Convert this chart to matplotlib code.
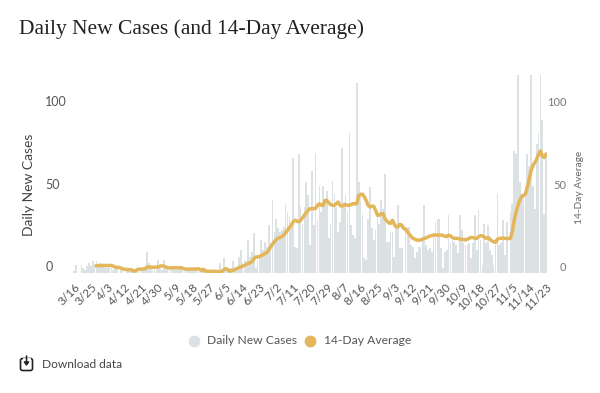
import numpy as np
import matplotlib
matplotlib.use('Agg')
import matplotlib.pyplot as plt
from matplotlib.patches import FancyBboxPatch

nan = float('nan')

# one row per tick interval (9 days), starting 3/16
daily = [
    1, 5, 0, 0, 5, 3, 2, 4, 6,
    4, 7, 5, 7, 4, 6, 4, 4, 3,
    4, 3, 3, 2, 3, 3, 0, 2, 2,
    0, 2, 2, 2, 2, 1, 2, 1, 1,
    1, 2, 3, 13, 6, 3, 2, 3, 2,
    8, 3, 2, 8, 3, 3, 2, 3, 4,
    3, 2, 3, 4, 3, 3, 2, 3, 2,
    3, 2, 2, 1, 2, 2, 2, 3, 1,
    1, 2, 1, 1, 1, 0, 6, 1, 9,
    2, 1, 2, 3, 7, 2, 3, 10, 14,
    6, 8, 7, 20, 10, 13, 24, 3, 8,
    10, 20, 14, 19, 16, 29, 18, 44, 25,
    33, 27, 25, 26, 28, 42, 37, 34, 28,
    70, 16, 15, 72, 40, 30, 40, 55, 47,
    17, 62, 29, 73, 33, 53, 37, 53, 45,
    50, 21, 30, 56, 48, 40, 25, 31, 76,
    43, 47, 37, 85, 29, 23, 21, 115, 55,
    49, 35, 9, 8, 33, 52, 27, 20, 26,
    38, 30, 44, 39, 60, 19, 19, 25, 25,
    10, 27, 41, 15, 15, 0, 28, 28, 28,
    17, 16, 9, 13, 16, 16, 22, 41, 17,
    14, 15, 13, 24, 31, 33, 33, 15, 3,
    13, 14, 35, 18, 20, 19, 17, 12, 35,
    26, 18, 17, 17, 18, 9, 18, 35, 14,
    38, 20, 5, 30, 18, 29, 14, 11, 5,
    17, 48, 17, 18, 32, 11, 31, 0, 37,
    42, 74, 72, 120, 55, 48, 48, 53, 72,
    65, 120, 53, 39, 78, 85, 120, 93, 36,
    73,
]

average = [
    nan, nan, nan, nan, nan, nan, nan, nan, nan,
    nan, nan, nan, 4.4, 4.5, 4.5, 4.5, 4.6, 4.6,
    4.5, 4.6, 4.5, 4.2, 3.6, 3.4, 3.4, 3.0, 2.6,
    2.2, 2.2, 2.0, 2.0, 1.9, 1.0, 1.5, 2.2, 2.3,
    2.4, 2.4, 2.6, 3.6, 3.6, 3.6, 3.5, 3.5, 3.6,
    3.6, 4.2, 4.3, 4.2, 3.6, 3.4, 3.0, 3.1, 3.2,
    3.2, 3.2, 3.1, 3.2, 3.0, 2.5, 2.3, 2.3, 2.4,
    2.4, 2.4, 2.4, 2.5, 2.4, 1.6, 2.3, 1.2, 1.1,
    1.0, 1.0, 1.0, 1.0, 0.9, 0.9, 1.0, 1.0, 2.0,
    2.6, 2.2, 1.0, 1.4, 1.6, 2.2, 2.8, 3.2, 3.6,
    4.2, 4.6, 5.2, 5.8, 6.2, 6.8, 8.5, 9.6, 9.8,
    10, 10.5, 11.2, 11.8, 12.5, 14, 15.8, 17.5, 19,
    20.3, 21.2, 21.6, 22, 23, 24.5, 26, 27.5, 29,
    31, 32, 31.5, 31, 32, 33.5, 35, 36.5, 38,
    39, 39, 39, 39.2, 41, 42, 41, 41, 44,
    44, 42.5, 41.5, 41, 41, 42, 43, 41, 40.5,
    41, 41.5, 41, 41, 41.5, 42, 42, 42, 47,
    47.5, 47.8, 46, 44, 41, 40, 40.5, 40.5, 38,
    35, 35, 36, 36, 33, 31.5, 30.5, 30, 32,
    29.5, 28, 28, 29.5, 29, 27, 26.5, 25, 23.5,
    22, 21, 20.5, 20, 19.8, 20, 20.5, 21, 21.3,
    21.8, 22.5, 22.6, 23, 23, 23, 23, 23, 22.8,
    22.3, 22, 23, 22.5, 21.5, 21, 21, 21, 20.5,
    20.5, 20.3, 20, 20.5, 21, 21.6, 21.5, 21, 21,
    22, 22.6, 22.5, 21.8, 21, 21.5, 20.5, 19.5, 19,
    18.5, 20.5, 21, 21, 21.3, 21, 21, 20.8, 21,
    25, 32, 37, 41, 44, 46.5, 47, 48, 52,
    57, 62, 65, 67, 69, 72, 74, 71, 70,
    72,
]

tick_labels = ['3/16', '3/25', '4/3', '4/12', '4/21', '4/30', '5/9', '5/18', '5/27', '6/5',
               '6/14', '6/23', '7/2', '7/11', '7/20', '7/29', '8/7', '8/16', '8/25', '9/3',
               '9/12', '9/21', '9/30', '10/9', '10/18', '10/27', '11/5', '11/14', '11/23']
y_ticks = [0, 50, 100]

BAR = '#dce2e4'
LINE = '#e3b65a'
W, H = 600, 393

plt.rcParams['font.family'] = ['Lato', 'DejaVu Sans']
fig = plt.figure(figsize=(W / 100, H / 100), dpi=100)

# axes box in pixels: x 73-547, y 75-273
ax = fig.add_axes([73 / W, 1 - 273 / H, 474 / W, 198 / H])
days = np.arange(len(daily))
ax.bar(days, daily, width=0.9, color=BAR)
ax.set_xlim(-0.5, 252.5)
ax.set_ylim(0, 120)
ax.set_xticks(days[::9])
ax.set_xticklabels(tick_labels, rotation=45, ha='right', va='top', rotation_mode='anchor',
                   fontsize=8.5, color='#555555')
ax.set_yticks(y_ticks)
ax.set_yticklabels([str(v) for v in y_ticks], ha='left', va='bottom', fontsize=9, color='#555555')
ax.tick_params(axis='x', length=0, pad=6)
ax.tick_params(axis='y', length=0, pad=20)
for side in ax.spines.values():
    side.set_visible(False)

ax2 = ax.twinx()
ax2.plot(days, average, color=LINE, lw=2.5, solid_joinstyle='round')
ax2.set_ylim(0, 120)
ax2.set_yticks(y_ticks)
ax2.set_yticklabels([str(v) for v in y_ticks], ha='right', va='bottom', fontsize=8, color='#777777')
ax2.tick_params(axis='y', length=0, pad=14)
for side in ax2.spines.values():
    side.set_visible(False)

# overlay in pixel coordinates for title, axis names, legend and download link
ov = fig.add_axes([0, 0, 1, 1])
ov.set_xlim(0, W)
ov.set_ylim(H, 0)
ov.axis('off')
ov.patch.set_alpha(0)

ov.text(19, 29, 'Daily New Cases (and 14-Day Average)', family='Liberation Serif', fontsize=15.5,
        color='#222222', va='center', ha='left')
ov.text(29, 185, 'Daily New Cases', rotation=90, fontsize=10, color='#444444', va='center', ha='center')
ov.text(579, 187, '14-Day Average', rotation=90, fontsize=7.3, color='#666666', va='center', ha='center')

ov.plot([193.5], [340.5], 'o', ms=8.5, mew=0, color=BAR)
ov.text(207, 340.5, 'Daily New Cases', fontsize=8.7, color='#555555', va='center')
ov.plot([310], [340.5], 'o', ms=8.5, mew=0, color=LINE)
ov.text(324, 340.5, '14-Day Average', fontsize=8.7, color='#555555', va='center')

# download icon
ov.add_patch(FancyBboxPatch((20.5, 358.5), 12, 12, boxstyle='round,pad=0,rounding_size=2',
                            fc='none', ec='#222222', lw=1.2))
ov.plot([24, 29], [358.5, 358.5], color='white', lw=2)
ov.annotate('', xy=(26.5, 366), xytext=(26.5, 356),
            arrowprops=dict(arrowstyle='-|>,head_width=0.15,head_length=0.2', color='#222222', lw=1.1, shrinkA=0, shrinkB=0))
ov.text(42, 365, 'Download data', fontsize=8.6, color='#444444', va='center')

fig.savefig('out.png', dpi=100, facecolor='white')
